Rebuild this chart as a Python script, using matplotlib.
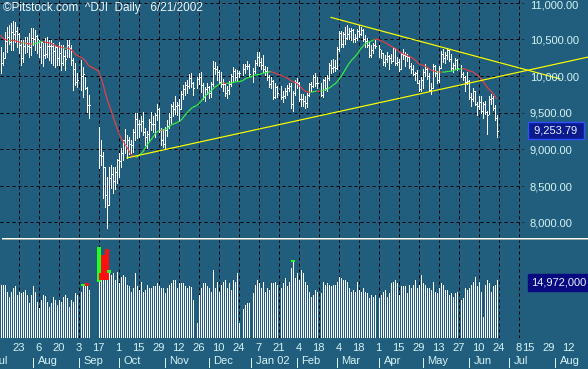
import numpy as np
import pandas as pd
import matplotlib
matplotlib.use("Agg")
import matplotlib.pyplot as plt
from matplotlib.collections import LineCollection
from matplotlib.lines import Line2D
from matplotlib.transforms import blended_transform_factory

plt.rcParams['font.family'] = ['Liberation Sans', 'DejaVu Sans']
plt.rcParams['lines.scale_dashes'] = False

# ---- data ---------------------------------------------------------------
START = "2001-07-10"
END = "2002-06-21"
HOLIDAYS = ["2001-09-03", "2001-09-11", "2001-09-12", "2001-09-13", "2001-09-14",
            "2001-11-22", "2001-12-25", "2002-01-01", "2002-01-21", "2002-02-18",
            "2002-03-29", "2002-05-27"]

# closes before the first bar, only used to start the 20 day average
prior_closes = [10948, 10871, 10690, 10624, 10566, 10597, 10645, 10715, 10605, 10504,
                10472, 10434, 10567, 10502, 10593, 10571, 10480, 10252, 10300]

closes = [
    # Jul
    10175, 10241, 10479, 10539, 10471, 10606, 10575, 10611, 10577, 10424, 10241, 10405, 10455, 10416, 10401, 10523,
    # Aug
    10510, 10551, 10512, 10401, 10458, 10292, 10298, 10416, 10415, 10412, 10345, 10392, 10240, 10320, 10174, 10276,
    10229, 10423, 10382, 10222, 10090, 9919, 9950,
    # Sep
    9998, 10033, 9840, 9606, 9605, 8920, 8903, 8759, 8376, 8236, 8604, 8660, 8568, 8682, 8848,
    # Oct
    8837, 8950, 9123, 9061, 9120, 9068, 9052, 9240, 9410, 9345, 9348, 9386, 9232, 9163, 9205, 9377, 9340, 9345,
    9463, 9545, 9269, 9121, 9075,
    # Nov
    9263, 9323, 9442, 9591, 9555, 9588, 9608, 9554, 9750, 9823, 9872, 9866, 9976, 9901, 9835, 9959, 9983, 9872,
    9711, 9829, 9852,
    # Dec
    9763, 9893, 10115, 10099, 10049, 9921, 9888, 9895, 9766, 9811, 9891, 9998, 10071, 9985, 10035, 10036, 10089,
    10131, 10137, 10021,
    # Jan 02
    10073, 10172, 10259, 10197, 10150, 10095, 10067, 9987, 9891, 9925, 9712, 9850, 9771, 9713, 9730, 9796, 9840,
    9865, 9618, 9762, 9920,
    # Feb
    9907, 9687, 9685, 9653, 9625, 9744, 9884, 9863, 9989, 9903, 9904, 9746, 9941, 9834, 9968, 10146, 10115, 10127,
    10106,
    # Mar
    10368, 10586, 10433, 10574, 10525, 10572, 10611, 10632, 10501, 10517, 10608, 10578, 10635, 10501, 10479, 10427,
    10281, 10353, 10427, 10404,
    # Apr
    10362, 10313, 10198, 10235, 10271, 10249, 10208, 10381, 10176, 10191, 10093, 10301, 10290, 10269, 10257, 10137,
    10089, 10030, 10035, 9910, 9819, 9946,
    # May
    10059, 10090, 10006, 9808, 9836, 10141, 10037, 9940, 10109, 10298, 10243, 10289, 10353, 10229, 10105, 10157,
    10216, 10104, 10031, 9981, 9912, 9925,
    # Jun
    9709, 9688, 9796, 9624, 9589, 9645, 9517, 9617, 9502, 9474, 9687, 9706, 9561, 9431, 9253.79,
]

highs = [
    10400, 10330, 10600, 10670, 10700, 10720, 10750, 10740, 10670, 10590, 10490, 10490, 10530, 10530, 10590, 10660,
    10650, 10630, 10560, 10490, 10470, 10450, 10520, 10530, 10490, 10490, 10450, 10420, 10400, 10460, 10420, 10420,
    10350, 10490, 10490, 10420, 10250, 10180, 10040,
    10220, 10120, 9990, 9850, 9740, 9300, 9130, 8960, 8760, 8620, 8760, 8790, 8760, 8760, 8870,
    8950, 9010, 9130, 9270, 9200, 9160, 9130, 9280, 9490, 9500, 9400, 9460, 9510, 9290, 9250, 9410, 9510, 9450,
    9490, 9620, 9560, 9290, 9280,
    9300, 9400, 9500, 9620, 9640, 9720, 9650, 9680, 9790, 9880, 9920, 9950, 10030, 10040, 9920, 9980, 10040, 10060,
    9900, 9850, 9900,
    9870, 9920, 10200, 10190, 10130, 10080, 10060, 9960, 9900, 9870, 9930, 10030, 10120, 10100, 10080, 10070, 10170,
    10170, 10200, 10170,
    10110, 10220, 10330, 10330, 10250, 10280, 10140, 10120, 10020, 9990, 9950, 9900, 9860, 9860, 9790, 9840, 9880,
    9910, 9900, 9790, 9940,
    9970, 9920, 9760, 9750, 9730, 9770, 9900, 9920, 10020, 10040, 9980, 9900, 9960, 9990, 10010, 10180, 10220, 10230,
    10220,
    10390, 10620, 10620, 10600, 10670, 10700, 10660, 10650, 10640, 10580, 10640, 10690, 10670, 10640, 10560, 10520,
    10470, 10420, 10450, 10490,
    10420, 10360, 10320, 10280, 10330, 10290, 10300, 10400, 10380, 10260, 10230, 10320, 10370, 10330, 10300, 10270,
    10180, 10150, 10060, 10080, 9950, 9990,
    10090, 10170, 10110, 10040, 9900, 10160, 10150, 10070, 10130, 10340, 10370, 10330, 10380, 10360, 10300, 10180,
    10240, 10230, 10150, 10060, 10000, 10060,
    9940, 9770, 9830, 9800, 9640, 9720, 9720, 9650, 9660, 9520, 9720, 9760, 9720, 9600, 9470,
]

lows = [
    10040, 10150, 10240, 10330, 10440, 10360, 10360, 10460, 10400, 10310, 10150, 10190, 10310, 10330, 10260, 10290,
    10420, 10360, 10310, 10260, 10180, 10130, 10250, 10260, 10220, 10180, 10150, 10120, 10150, 10150, 10080, 10150,
    10080, 10260, 10260, 10150, 9810, 9880, 9850,
    9810, 9710, 9820, 9510, 9420, 8750, 8780, 8330, 8210, 7926, 8240, 8470, 8400, 8450, 8540,
    8620, 8760, 8850, 8950, 8880, 8930, 8950, 8960, 9130, 9150, 9170, 9250, 9190, 9060, 9020, 9110, 9260, 9230,
    9160, 9400, 9240, 9060, 9030,
    9000, 9180, 9290, 9360, 9460, 9480, 9470, 9380, 9550, 9680, 9740, 9770, 9840, 9850, 9740, 9830, 9890, 9780,
    9680, 9660, 9760,
    9700, 9710, 9860, 10030, 9940, 9900, 9850, 9800, 9720, 9700, 9760, 9870, 9920, 9950, 9940, 9990, 10020, 10040,
    10090, 10000,
    9920, 10040, 10150, 10140, 10100, 10060, 10010, 9950, 9850, 9840, 9690, 9700, 9710, 9680, 9650, 9700, 9740,
    9790, 9560, 9520, 9740,
    9830, 9660, 9590, 9590, 9560, 9580, 9720, 9800, 9850, 9870, 9830, 9720, 9710, 9810, 9790, 9950, 10040, 10050,
    10070,
    10090, 10340, 10400, 10400, 10440, 10500, 10510, 10490, 10470, 10460, 10490, 10530, 10560, 10480, 10400, 10400,
    10260, 10260, 10310, 10380,
    10260, 10250, 10150, 10140, 10190, 10100, 10180, 10200, 10150, 10150, 10070, 10100, 10230, 10140, 10200, 10110,
    10040, 10010, 9950, 9900, 9790, 9790,
    9840, 10000, 9960, 9790, 9760, 9840, 10000, 9910, 9920, 10110, 10190, 10180, 10230, 10200, 10080, 10050, 10100,
    10080, 9980, 9940, 9800, 9890,
    9680, 9590, 9660, 9600, 9470, 9550, 9490, 9430, 9480, 9210, 9480, 9620, 9530, 9400, 9170,
]

# volume in millions (as the chart's volume scale)
volumes = [
    13.7, 13.7, 13.7, 12.0, 10.7, 12.0, 12.8, 13.3, 11.1, 12.0, 11.5, 12.0, 12.4, 11.1, 9.0, 11.1,
    13.3, 12.0, 9.4, 7.7, 9.8, 11.1, 10.9, 9.4, 8.1, 9.0, 10.7, 9.8, 8.5, 9.8, 9.4, 10.7, 11.1, 10.2, 8.1, 9.8,
    9.4, 11.5, 11.1,
    12.0, 13.9, 13.4, 14.1, 12.4, 23.6, 16.8, 21.4, 20.1, 23.1, 17.5, 16.3, 16.7, 15.0, 17.1,
    14.1, 15.8, 16.3, 15.8, 13.7, 13.3, 12.0, 12.8, 16.7, 13.3, 12.4, 14.5, 12.0, 12.4, 13.7, 12.8, 12.8, 13.3,
    13.3, 14.1, 13.3, 12.8, 12.8,
    11.5, 12.8, 13.7, 14.1, 15.0, 15.0, 12.8, 14.1, 14.1, 14.3, 13.3, 12.8, 13.3, 13.1, 9.8, 3.8, 11.1, 12.8,
    14.1, 14.1, 13.3,
    12.8, 12.0, 17.6, 12.8, 14.5, 12.0, 13.7, 14.5, 15.0, 12.8, 14.1, 12.4, 15.0, 14.5, 16.7, 3.8, 7.4, 8.5,
    9.0, 9.0,
    11.5, 13.7, 15.0, 14.1, 12.8, 14.5, 12.0, 12.8, 12.4, 14.1, 14.1, 14.5, 13.7, 12.8, 14.1, 15.4, 13.3, 14.5,
    18.0, 20.1, 15.4,
    16.7, 15.0, 17.6, 16.7, 14.5, 13.7, 12.0, 10.7, 11.1, 12.4, 12.0, 11.5, 14.5, 13.7, 14.1, 13.7, 13.3, 13.7,
    13.7,
    14.5, 15.8, 15.4, 15.0, 15.0, 14.5, 12.8, 12.0, 12.4, 12.0, 14.5, 12.4, 12.0, 12.8, 12.0, 11.5, 10.2, 11.1,
    10.7, 11.1,
    10.2, 11.1, 12.0, 12.4, 10.7, 11.5, 14.1, 14.5, 15.0, 14.1, 11.1, 13.3, 13.3, 13.3, 11.5, 13.7, 12.8, 13.7,
    15.0, 12.8, 13.7, 16.3,
    14.1, 13.7, 12.8, 12.8, 12.4, 14.5, 12.0, 11.5, 12.8, 14.1, 13.7, 12.4, 12.4, 11.1, 11.5, 10.7, 11.5, 12.0,
    9.8, 10.2, 12.8, 12.4,
    12.8, 13.7, 14.5, 15.8, 13.3, 14.5, 12.0, 5.5, 13.7, 15.0, 14.1, 12.0, 13.3, 13.7, 14.972,
]

# volume spikes: day, colour, level where the colour starts
spike_days = ["2001-09-05", "2001-09-07", "2001-09-17", "2001-09-18", "2001-09-19",
              "2001-09-20", "2001-09-21", "2001-09-24", "2002-01-30"]
spike_colors = ["g", "r", "g", "r", "r", "r", "r", "g", "g"]
spike_base = [13.3, 13.5, 14.5, 15.0, 15.0, 15.0, 15.0, 16.9, 19.5]

# trend lines drawn on the chart: (date, price) anchors
upper_trend = [("2002-02-26", 10802), ("2002-08-06", 9959)]
lower_trend = [("2001-10-05", 8880), ("2002-08-26", 10260)]

price_levels = [8000, 8500, 9000, 9500, 10000, 10500, 11000]
grid_dates = pd.date_range("2001-07-23", "2002-07-08", freq="14D")
day_label_dates = list(grid_dates) + list(pd.to_datetime(["2002-07-15", "2002-07-29", "2002-08-12"]))
month_dates = pd.to_datetime(["2001-07-02", "2001-08-01", "2001-09-03", "2001-10-01", "2001-11-01",
                              "2001-12-03", "2002-01-01", "2002-02-01", "2002-03-01", "2002-04-01",
                              "2002-05-01", "2002-06-03", "2002-07-01", "2002-08-01"])
month_names = ["Jul", "Aug", "Sep", "Oct", "Nov", "Dec", "Jan 02", "Feb", "Mar", "Apr",
               "May", "Jun", "Jul", "Aug"]

# ---- helpers ----------------------------------------------------------------
def wd(d):
    """weekday index from the first day (holidays keep their slot)"""
    return int(np.busday_count(np.datetime64(START), np.datetime64(pd.Timestamp(d).date())))

days = pd.bdate_range(START, END)
days = days[~days.isin(pd.to_datetime(HOLIDAYS))]
assert len(days) == len(closes) == len(highs) == len(lows) == len(volumes), \
    (len(days), len(closes), len(highs), len(lows), len(volumes))
x = np.array([wd(d) for d in days])

BG = "#215e7e"
TXT = "#d4f4f4"
W, H = 588, 369
XL = (-0.25, 293.75)
DASH = (2.16, 2.16)
PX = 0.72  # one pixel in points
PPX = 13.66  # price points per pixel on the price panel

fig = plt.figure(figsize=(W / 100, H / 100), dpi=100)
fig.patch.set_facecolor(BG)

ax = fig.add_axes([0, 1 - 237 / H, 1, 237 / H])
axv = fig.add_axes([0, 1 - 338 / H, 1, 98 / H])
for a in (ax, axv):
    a.set_axis_off()
    a.set_xlim(XL)
ax.set_ylim(7801, 11038)
axv.set_ylim(0, 98 / 3.874)

# grid
for p in price_levels:
    ax.plot([XL[0], 261], [p, p], color="black", lw=PX, dashes=DASH)
for d in grid_dates:
    ax.axvline(wd(d), color="black", lw=PX, dashes=DASH)
    axv.axvline(wd(d), color="black", lw=PX, dashes=DASH)

# price bars
ax.vlines(x, lows, highs, color="white", lw=PX, antialiased=False)
ax.hlines(closes, x, x + 0.5, color="white", lw=PX, antialiased=False)

# 20 day average, green while rising and red while falling
ma = pd.Series(prior_closes + closes).rolling(20).mean().values[len(prior_closes):]
pts = np.column_stack([x, ma])
segs = [pts[i - 1:i + 1] for i in range(1, len(pts))]
seg_col = ["#3cff3c" if ma[i] > ma[i - 1] else "#ff3c3c" for i in range(1, len(pts))]
ax.add_collection(LineCollection(segs, colors=seg_col, linewidths=0.8))

# trend lines
for (d0, p0), (d1, p1) in (upper_trend, lower_trend):
    ax.plot([wd(d0), wd(d1)], [p0, p1], color="#ffff00", lw=0.85, solid_capstyle="butt")

# price scale labels
tr = blended_transform_factory(ax.transAxes, ax.transData)
for p in price_levels:
    ypos = min(p - 1.2 * PPX, 11038 - 5.5 * PPX)
    ax.text(530 / W, ypos, f"{p:,.2f}", transform=tr, ha="left", va="center",
            color=TXT, fontsize=8)
ax.text(531 / W, closes[-1], f" {closes[-1]:,.2f} ", transform=tr, ha="left", va="center",
        color="#e8f0ff", fontsize=8,
        bbox=dict(boxstyle="square,pad=0.3", facecolor="#0b1a8c", edgecolor="#3050ff", lw=1.0))

# volume
axv.vlines(x, 0, volumes, color="white", lw=PX, antialiased=False)
for d, c, b in zip(spike_days, spike_colors, spike_base):
    v = volumes[list(days).index(pd.Timestamp(d))]
    axv.vlines(wd(d), b, v, color={"g": "#20ff20", "r": "#ff1010"}[c], lw=1.5, antialiased=False)
trv = blended_transform_factory(axv.transAxes, axv.transData)
axv.text(531 / W, volumes[-1] - 0.7, f"{volumes[-1] * 1e6:,.0f}", transform=trv, ha="left",
         va="center", color="#e8f0ff", fontsize=8,
         bbox=dict(boxstyle="square,pad=0.3", facecolor="#0a0a80", edgecolor="#0a0a80"))

# separator line between the panels
fig.add_artist(Line2D([2 / W, 1], [1 - 237.5 / H] * 2, color="white", lw=PX))
fig.add_artist(Line2D([2 / W, 1], [1 - 238.5 / H] * 2, color="#9aa8b0", lw=PX))

# date axis
trd = blended_transform_factory(axv.transData, fig.transFigure)
for d in day_label_dates:
    axv.text(wd(d), 1 - 348 / H, str(d.day), transform=trd, ha="center", va="center",
             color=TXT, fontsize=8, clip_on=False)
for d, name in zip(month_dates, month_names):
    axv.text(wd(d) + 2.5, 1 - 361 / H, name, transform=trd, ha="left", va="center",
             color=TXT, fontsize=8, clip_on=False)
    fig.add_artist(Line2D([wd(d), wd(d)], [1 - 358 / H, 1 - 367 / H], transform=trd,
                          color=TXT, lw=PX))

fig.text(3 / W, 1 - 7.5 / H, "©Pitstock.com  ^DJI  Daily   6/21/2002", color="#eef8f8",
         fontsize=8.5, ha="left", va="center")

fig.savefig("out.png", dpi=100, facecolor=BG)
